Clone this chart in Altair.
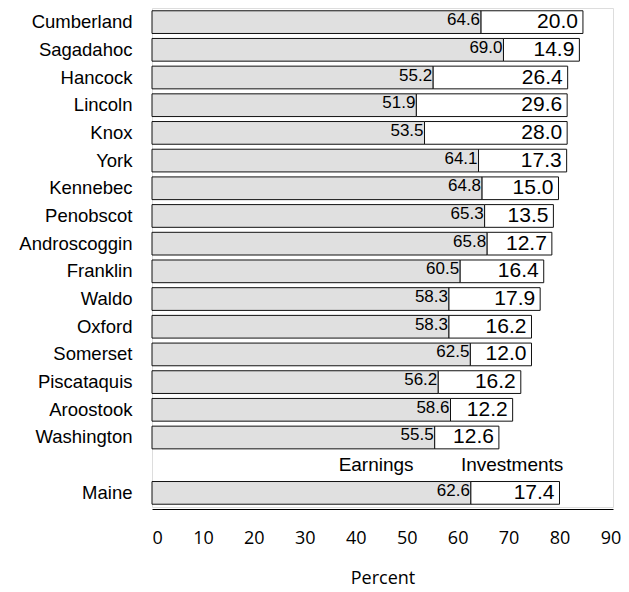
import altair as alt
import pandas as pd

counties = ["Cumberland", "Sagadahoc", "Hancock", "Lincoln", "Knox", "York", "Kennebec",
            "Penobscot", "Androscoggin", "Franklin", "Waldo", "Oxford", "Somerset",
            "Piscataquis", "Aroostook", "Washington", "Maine"]
earnings = [64.6, 69.0, 55.2, 51.9, 53.5, 64.1, 64.8, 65.3, 65.8, 60.5, 58.3, 58.3, 62.5,
            56.2, 58.6, 55.5, 62.6]
investments = [20.0, 14.9, 26.4, 29.6, 28.0, 17.3, 15.0, 13.5, 12.7, 16.4, 17.9, 16.2, 12.0,
               16.2, 12.2, 12.6, 17.4]
order = counties[:-1] + [" "] + ["Maine"]
legend_labels = ["Earnings", "Investments"]
legend_x = [44, 70.7]

rows = []
for c, e, i in zip(counties, earnings, investments):
    rows.append({"county": c, "series": "Earnings", "start": 0, "end": e, "label": f"{e:.1f}"})
    rows.append({"county": c, "series": "Investments", "start": e, "end": round(e + i, 1), "label": f"{i:.1f}"})
df = pd.DataFrame(rows)
leg = pd.DataFrame({"county": [" ", " "], "x": legend_x, "text": legend_labels})

font = "Liberation Sans"
xscale = alt.Scale(domain=[0, 90.5], nice=False, zero=True)
yscale = alt.Scale(domain=order, paddingInner=0.18, paddingOuter=0.1)

base = alt.Chart(df)
bars = base.mark_bar(stroke="#111111", strokeWidth=1).encode(
    y=alt.Y("county:N", scale=yscale, sort=order,
            axis=alt.Axis(title=None, ticks=False, domain=False, labelFont=font,
                          labelFontSize=18.5, labelColor="black", labelPadding=20)),
    x=alt.X("start:Q", scale=xscale,
            axis=alt.Axis(values=list(range(0, 91, 10)), title="Percent", ticks=False,
                          grid=False, domain=True, domainColor="black", offset=2,
                          labelFont="Open Sans", labelFontSize=18, labelColor="black",
                          labelPadding=20, titleFont="Open Sans", titleFontSize=18,
                          titleFontWeight="normal", titleColor="black", titlePadding=22)),
    x2="end:Q",
    color=alt.Color("series:N", scale=alt.Scale(domain=legend_labels, range=["#e0e0e0", "#ffffff"]),
                    legend=None),
)

earn_text = base.transform_filter(alt.datum.series == "Earnings").mark_text(
    align="right", baseline="middle", dx=-1, dy=-2, fontSize=17, font=font, color="black"
).encode(y=alt.Y("county:N", sort=order), x="end:Q", text="label:N")

inv_text = base.transform_filter(alt.datum.series == "Investments").mark_text(
    align="right", baseline="middle", dx=-5, fontSize=21, font=font, color="black"
).encode(y=alt.Y("county:N", sort=order), x="end:Q", text="label:N")

leg_text = alt.Chart(leg).mark_text(
    align="center", baseline="middle", fontSize=19, font=font, color="black"
).encode(y=alt.Y("county:N", sort=order), x="x:Q", text="text:N")

chart = alt.layer(bars, earn_text, inv_text, leg_text).properties(
    width=461, height=499,
    autosize=alt.AutoSizeParams(type="none"),
    padding={"left": 144, "top": 0, "right": 8, "bottom": 84},
).configure_view(stroke="black", strokeWidth=1).configure(background="white")

chart.save("out.html", embed_options={"renderer": "svg", "actions": False})
